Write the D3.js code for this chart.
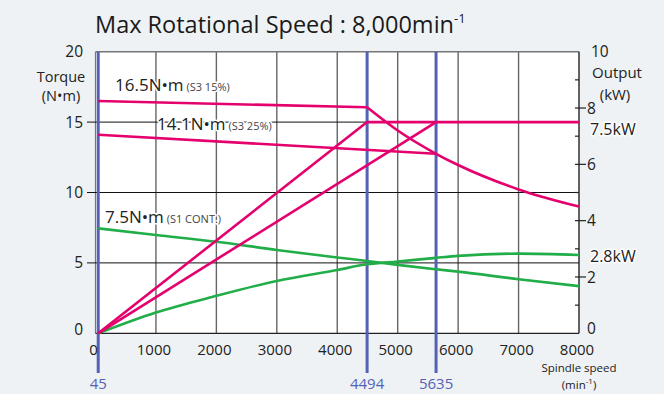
<!DOCTYPE html>
<html>
<head>
<meta charset="utf-8">
<script src="https://cdn.jsdelivr.net/npm/d3@7"></script>
<style>
  body { margin: 0; background: #eef2f4; }
  svg { display: block; font-family: "Open Sans", "Noto Sans", sans-serif; }
</style>
</head>
<body>
<svg id="chart" width="664" height="394"></svg>
<script>
// spindle speed / torque / output chart

const speedTicks = [0, 1000, 2000, 3000, 4000, 5000, 6000, 7000, 8000];
const torqueTicks = [0, 5, 10, 15, 20];
const outputTicks = [0, 2, 4, 6, 8, 10];
const outputMinor = [1, 3, 5, 7, 9];
const baseSpeeds = [45, 4494, 5635];

// torque in N·m, [speed, value]
const s3_15Torque = [[45, 16.5], [4494, 16.05]];
const s3_15TorqueFall = [[4494, 16.05], [5000, 14.4], [5635, 12.75], [6000, 11.95], [7000, 10.22], [8000, 9.0]];
const s3_25Torque = [[45, 14.1], [5635, 12.75]];
const s1Torque = [[45, 7.45], [1000, 6.98], [2000, 6.5], [3000, 5.92], [4000, 5.38], [4494, 5.14],
                  [5000, 4.86], [5635, 4.55], [6000, 4.38], [7000, 3.84], [8000, 3.35]];

// output in kW, [speed, value]
const s3_15Output = [[45, 0], [4494, 7.5], [8000, 7.5]];
const s3_25Output = [[45, 0], [5635, 7.5]];
const s1Output = [[45, 0], [1000, 0.74], [2000, 1.33], [3000, 1.86], [4000, 2.25], [4494, 2.45],
                  [5000, 2.55], [5635, 2.68], [6000, 2.75], [7000, 2.83], [8000, 2.78]];

const pink = '#e4006d';
const green = '#21ad48';
const blue = '#5462b5';

const svg = d3.select('#chart');

svg.append('rect').attr('width', 664).attr('height', 394).attr('fill', '#eef2f4');

let x = d3.scaleLinear().domain([0, 8000]).range([95.5, 579]);
let y = d3.scaleLinear().domain([0, 20]).range([333.3, 51.7]);
let yR = d3.scaleLinear().domain([0, 10]).range([333.3, 51.7]);

// plot area
svg.append('rect')
    .attr('x', x(0)).attr('y', y(20))
    .attr('width', x(8000) - x(0)).attr('height', y(0) - y(20))
    .attr('fill', 'white');

// vertical grid
svg.append('g').selectAll('line')
    .data(speedTicks.filter(d => d > 0 && d < 8000))
    .enter().append('line')
        .attr('x1', d => x(d)).attr('x2', d => x(d))
        .attr('y1', y(20)).attr('y2', y(0))
        .attr('stroke', '#666').attr('stroke-width', 1.4);

// top border
svg.append('line')
    .attr('x1', x(0)).attr('x2', x(8000))
    .attr('y1', y(20)).attr('y2', y(20))
    .attr('stroke', '#777').attr('stroke-width', 1.4);

svg.append('line')
    .attr('x1', x(0)).attr('x2', x(0))
    .attr('y1', y(20)).attr('y2', y(0))
    .attr('stroke', '#777').attr('stroke-width', 1.2);

// horizontal grid, ticks stick out on the left
svg.append('g').selectAll('line')
    .data(torqueTicks.filter(d => d > 0 && d < 20))
    .enter().append('line')
        .attr('x1', 87).attr('x2', x(8000))
        .attr('y1', d => y(d)).attr('y2', d => y(d))
        .attr('stroke', '#111').attr('stroke-width', 1);

// x axis line
svg.append('line')
    .attr('x1', x(0)).attr('x2', x(8000))
    .attr('y1', y(0)).attr('y2', y(0))
    .attr('stroke', '#222').attr('stroke-width', 1.3);

// right axis
svg.append('line')
    .attr('x1', x(8000)).attr('x2', x(8000))
    .attr('y1', y(20)).attr('y2', y(0))
    .attr('stroke', '#222').attr('stroke-width', 1.4);

svg.append('g').selectAll('line')
    .data(outputMinor)
    .enter().append('line')
        .attr('x1', x(8000) - 4).attr('x2', x(8000))
        .attr('y1', d => yR(d)).attr('y2', d => yR(d))
        .attr('stroke', '#222').attr('stroke-width', 1.2);

svg.append('g').selectAll('line')
    .data(outputTicks.filter(d => d > 0 && d < 10))
    .enter().append('line')
        .attr('x1', x(8000) - 4).attr('x2', x(8000) + 7)
        .attr('y1', d => yR(d)).attr('y2', d => yR(d))
        .attr('stroke', '#222').attr('stroke-width', 1.2);

// base speed lines
svg.append('g').selectAll('line')
    .data(baseSpeeds)
    .enter().append('line')
        .attr('x1', d => x(d)).attr('x2', d => x(d))
        .attr('y1', y(20)).attr('y2', 373)
        .attr('stroke', blue).attr('stroke-width', 3);

// curves
let straight = d3.line().x(d => x(d[0])).y(d => y(d[1]));
let smooth = d3.line().x(d => x(d[0])).y(d => y(d[1])).curve(d3.curveMonotoneX);
let straightR = d3.line().x(d => x(d[0])).y(d => yR(d[1]));
let smoothR = d3.line().x(d => x(d[0])).y(d => yR(d[1])).curve(d3.curveMonotoneX);

let curves = svg.append('g').attr('fill', 'none').attr('stroke-width', 2.6).attr('stroke-linejoin', 'round');

curves.append('path').datum(s1Torque).attr('d', smooth).attr('stroke', green);
curves.append('path').datum(s1Output).attr('d', smoothR).attr('stroke', green);
curves.append('path').datum(s3_25Torque).attr('d', straight).attr('stroke', pink);
curves.append('path').datum(s3_15Torque).attr('d', straight).attr('stroke', pink);
curves.append('path').datum(s3_15TorqueFall).attr('d', smooth).attr('stroke', pink);
curves.append('path').datum(s3_25Output).attr('d', straightR).attr('stroke', pink);
curves.append('path').datum(s3_15Output).attr('d', straightR).attr('stroke', pink);

// title
let title = svg.append('text')
    .attr('x', 95).attr('y', 33)
    .style('font-size', '23.5px').style('fill', '#1a1a1a');
title.append('tspan').text('Max Rotational Speed : 8,000min');
title.append('tspan').attr('dy', -10).style('font-size', '13px').text('-1');

// left axis labels
svg.append('g').selectAll('text')
    .data(torqueTicks)
    .enter().append('text')
        .attr('x', 83)
        .attr('y', d => Math.min(y(d), 329))
        .attr('dy', '0.36em')
        .attr('text-anchor', 'end')
        .text(d => d)
        .style('font-size', '15.5px').style('fill', '#222');

svg.append('text').attr('x', 61).attr('y', 82).attr('text-anchor', 'middle')
    .text('Torque').style('font-size', '14.5px').style('fill', '#222');
svg.append('text').attr('x', 61).attr('y', 101).attr('text-anchor', 'middle')
    .text('(N•m)').style('font-size', '14.5px').style('fill', '#222');

// right axis labels
svg.append('g').selectAll('text')
    .data(outputTicks)
    .enter().append('text')
        .attr('x', d => d == 10 ? 591 : 587)
        .attr('y', d => Math.min(yR(d), 328))
        .attr('dy', '0.36em')
        .text(d => d)
        .style('font-size', '15.5px').style('fill', '#222');

svg.append('text').attr('x', 617).attr('y', 78).attr('text-anchor', 'middle')
    .text('Output').style('font-size', '15px').style('fill', '#222');
svg.append('text').attr('x', 615).attr('y', 100).attr('text-anchor', 'middle')
    .text('(kW)').style('font-size', '15px').style('fill', '#222');

function halo(sel) {
    return sel.style('stroke', 'white').style('stroke-width', 3)
        .style('paint-order', 'stroke').style('stroke-linejoin', 'round');
}

halo(svg.append('text').attr('x', 590).attr('y', 135).text('7.5kW')
    .style('font-size', '16px').style('fill', '#222'));
halo(svg.append('text').attr('x', 590).attr('y', 262).text('2.8kW')
    .style('font-size', '16px').style('fill', '#222'));

// x axis labels
svg.append('g').selectAll('text')
    .data(speedTicks)
    .enter().append('text')
        .attr('x', d => x(d) - 2)
        .attr('y', 355)
        .attr('text-anchor', 'middle')
        .text(d => d)
        .style('font-size', '15px').style('fill', '#222');

svg.append('g').selectAll('text')
    .data(baseSpeeds)
    .enter().append('text')
        .attr('x', d => x(d))
        .attr('y', 389)
        .attr('text-anchor', 'middle')
        .text(d => d)
        .style('font-size', '15px').style('fill', blue);

svg.append('text').attr('x', 579).attr('y', 371.5).attr('text-anchor', 'middle')
    .text('Spindle speed').style('font-size', '11.5px').style('fill', '#222');
let unit = svg.append('text').attr('x', 579).attr('y', 389).attr('text-anchor', 'middle')
    .style('font-size', '11.5px').style('fill', '#222');
unit.append('tspan').text('(min');
unit.append('tspan').attr('dy', -5).style('font-size', '8px').text('-1');
unit.append('tspan').attr('dy', 5).text(')');

// series labels
let seriesLabels = [
    {big: '16.5N•m', small: '(S3 15%)', x: 115, y: 90.5},
    {big: '14.1N•m', small: '(S3 25%)', x: 157, y: 130},
    {big: '7.5N•m', small: '(S1 CONT.)', x: 105, y: 222.5}
];

seriesLabels.forEach(l => {
    let t = svg.append('text').attr('x', l.x).attr('y', l.y).style('fill', '#222');
    t.append('tspan').text(l.big).style('font-size', '17px');
    t.append('tspan').text(' ' + l.small).style('font-size', '11px').style('fill', '#444');
    halo(t);
});
</script>
</body>
</html>
